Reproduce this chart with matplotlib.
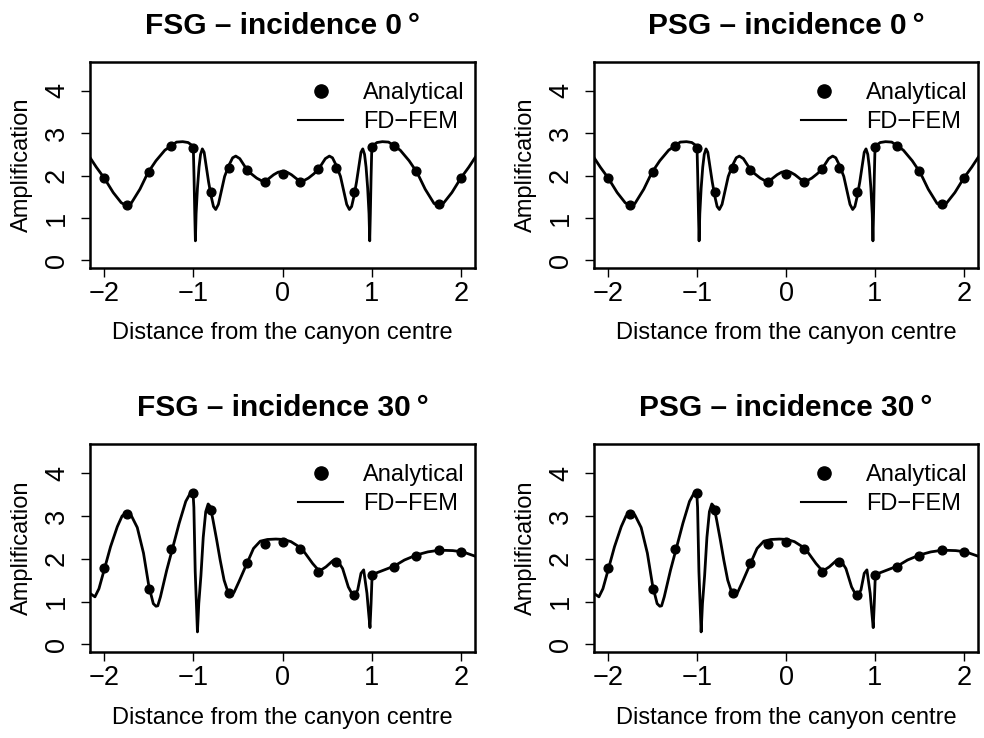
"""
Amplification along the surface for a canyon: analytical vs FD-FEM,
FSG and PSG schemes, incidence 0 and 30 degrees.
"""
import matplotlib
matplotlib.use("Agg")
import matplotlib.pyplot as plt
from matplotlib.lines import Line2D

plt.rcParams['font.family'] = ['Liberation Sans', 'DejaVu Sans']

# analytical solution, sampled at the surface stations
x_analytical = [-2, -1.75, -1.5, -1.25, -1, -0.8, -0.6, -0.4, -0.2, 0,
                0.2, 0.4, 0.6, 0.8, 1, 1.25, 1.5, 1.75, 2]
amp_analytical_0 = [1.94, 1.31, 2.08, 2.69, 2.66, 1.62, 2.18, 2.14, 1.84, 2.03,
                    1.84, 2.15, 2.17, 1.62, 2.68, 2.70, 2.10, 1.32, 1.94]
amp_analytical_30 = [1.79, 3.04, 1.30, 2.23, 3.53, 3.14, 1.21, 1.89, 2.34, 2.38,
                     2.23, 1.70, 1.93, 1.15, 1.63, 1.81, 2.06, 2.20, 2.16]

# FD-FEM, incidence 0
x_fem_0 = [-2.165, -2.09, -2.00, -1.90, -1.81, -1.76, -1.70, -1.60, -1.51, -1.42,
           -1.32, -1.25, -1.19, -1.12, -1.06, -1.02, -1.00, -0.993, -0.985, -0.978,
           -0.970, -0.955, -0.937, -0.92, -0.90, -0.88, -0.855, -0.83, -0.80, -0.775,
           -0.75, -0.72, -0.686, -0.65, -0.60, -0.56, -0.525, -0.48, -0.44, -0.40,
           -0.35, -0.29, -0.22, -0.16, -0.10, -0.05, 0.00,
           0.05, 0.10, 0.16, 0.22, 0.29, 0.35, 0.40, 0.44, 0.48, 0.525,
           0.56, 0.60, 0.65, 0.686, 0.72, 0.75, 0.775, 0.80, 0.83, 0.855,
           0.88, 0.90, 0.92, 0.937, 0.955, 0.970, 0.978, 0.985, 0.993, 1.00,
           1.02, 1.06, 1.12, 1.19, 1.25, 1.32, 1.42, 1.51, 1.60, 1.70,
           1.76, 1.81, 1.90, 2.00, 2.09, 2.165]
amp_fem_0 = [2.44, 2.20, 1.94, 1.60, 1.36, 1.30, 1.34, 1.68, 2.07, 2.35,
             2.60, 2.70, 2.79, 2.80, 2.78, 2.72, 2.55, 1.95, 1.10, 0.46,
             1.10, 1.70, 2.20, 2.50, 2.63, 2.55, 2.20, 1.85, 1.50, 1.27,
             1.20, 1.32, 1.64, 1.98, 2.25, 2.42, 2.46, 2.40, 2.27, 2.14,
             2.04, 1.94, 1.86, 1.92, 2.02, 2.08, 2.10,
             2.08, 2.02, 1.92, 1.86, 1.94, 2.04, 2.14, 2.27, 2.40, 2.46,
             2.42, 2.25, 1.98, 1.64, 1.32, 1.20, 1.27, 1.50, 1.85, 2.20,
             2.55, 2.63, 2.50, 2.20, 1.70, 1.10, 0.46, 1.10, 1.95, 2.55,
             2.72, 2.78, 2.80, 2.79, 2.70, 2.60, 2.35, 2.07, 1.68, 1.34,
             1.30, 1.36, 1.60, 1.94, 2.20, 2.44]

# FD-FEM, incidence 30
x_fem_30 = [-2.16, -2.105, -2.06, -2.00, -1.93, -1.854, -1.80, -1.75, -1.70, -1.63,
            -1.56, -1.50, -1.45, -1.42, -1.40, -1.37, -1.30, -1.236, -1.16, -1.086,
            -1.03, -1.005, -0.995, -0.98, -0.955, -0.94, -0.916, -0.89, -0.862, -0.835,
            -0.81, -0.78, -0.74, -0.70, -0.656, -0.62, -0.59, -0.545, -0.49, -0.40,
            -0.326, -0.25, -0.17, -0.075, 0.01, 0.094, 0.17, 0.243, 0.337, 0.412,
            0.487, 0.562, 0.61, 0.674, 0.738, 0.798, 0.843, 0.88, 0.91, 0.947,
            0.965, 0.981, 0.993, 1.005, 1.105, 1.255, 1.367, 1.506, 1.63, 1.76,
            1.91, 2.022, 2.16]
amp_fem_30 = [1.19, 1.11, 1.30, 1.75, 2.28, 2.75, 3.00, 3.08, 3.02, 2.73,
              2.13, 1.36, 0.95, 0.89, 0.90, 1.11, 1.73, 2.23, 2.83, 3.34,
              3.55, 3.56, 3.20, 1.70, 0.29, 0.95, 1.60, 2.50, 3.10, 3.28,
              3.22, 2.90, 2.45, 1.97, 1.50, 1.27, 1.19, 1.21, 1.46, 1.89,
              2.24, 2.41, 2.45, 2.46, 2.45, 2.40, 2.30, 2.16, 1.89, 1.71,
              1.81, 1.95, 1.98, 1.77, 1.34, 1.11, 1.27, 1.66, 1.74, 1.19,
              0.75, 0.39, 0.95, 1.63, 1.71, 1.83, 1.97, 2.09, 2.16, 2.20,
              2.19, 2.16, 2.06]

panels = [
    ("FSG \u2013 incidence 0\u2009\u00b0", x_fem_0, amp_fem_0, amp_analytical_0),
    ("PSG \u2013 incidence 0\u2009\u00b0", x_fem_0, amp_fem_0, amp_analytical_0),
    ("FSG \u2013 incidence 30\u2009\u00b0", x_fem_30, amp_fem_30, amp_analytical_30),
    ("PSG \u2013 incidence 30\u2009\u00b0", x_fem_30, amp_fem_30, amp_analytical_30),
]
rects = [
    [0.0915, 0.6369, 0.3913, 0.2791],
    [0.6037, 0.6369, 0.3902, 0.2791],
    [0.0915, 0.1165, 0.3913, 0.2818],
    [0.6037, 0.1165, 0.3902, 0.2818],
]

fig = plt.figure(figsize=(9.84, 7.38), dpi=100)

for (title, xf, yf, ya), rect in zip(panels, rects):
    ax = fig.add_axes(rect)
    ax.plot(xf, yf, color='black', linewidth=2.0, solid_joinstyle='round')
    ax.plot(x_analytical, ya, 'o', color='black', markersize=6.3)
    ax.set_xlim(-2.16, 2.16)
    ax.set_ylim(-0.18, 4.68)
    ax.set_xticks([-2, -1, 0, 1, 2])
    ax.set_yticks([0, 1, 2, 3, 4])
    ax.tick_params(axis='both', direction='out', length=6.5, width=1.0,
                   labelsize=19.5, color='black')
    ax.tick_params(axis='x', pad=3)
    ax.tick_params(axis='y', pad=8)
    for lab in ax.get_yticklabels():
        lab.set_rotation(90)
        lab.set_va('center')
    for sp in ax.spines.values():
        sp.set_linewidth(1.8)
    ax.set_title(title, fontsize=21.5, fontweight='bold', pad=20)
    ax.set_xlabel("Distance from the canyon centre", fontsize=17, va='center')
    ax.xaxis.set_label_coords(0.5, -0.316)
    ax.set_ylabel("Amplification", fontsize=17, va='center')
    ax.yaxis.set_label_coords(-0.178, 0.5)

    handles = [
        Line2D([], [], linestyle='none', marker='o', markersize=9.5, color='black'),
        Line2D([], [], color='black', linewidth=1.5),
    ]
    ax.legend(handles, ["Analytical", "FD\u2212FEM"], loc='upper right',
              bbox_to_anchor=(1.026, 1.0),
              frameon=False, fontsize=17, handlelength=1.9,
              handletextpad=0.85, labelspacing=0.3, borderaxespad=0.55,
              borderpad=0.3)

fig.savefig("out.png", dpi=100)
